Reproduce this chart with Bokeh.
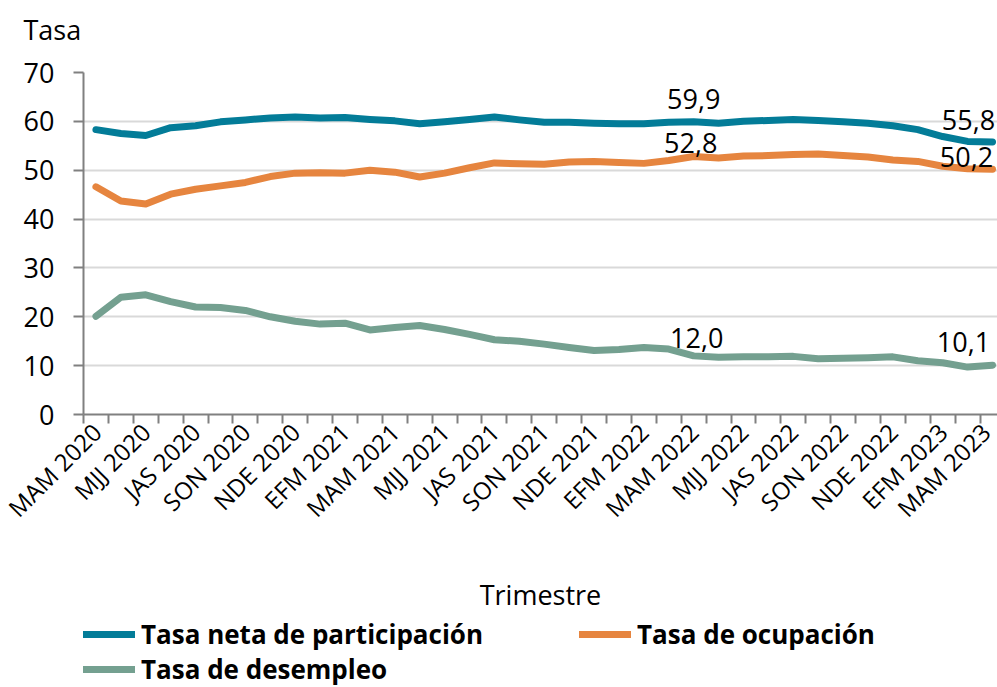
import math
from bokeh.plotting import figure
from bokeh.layouts import column
from bokeh.models import FixedTicker, Legend, LegendItem, Range1d, Title
from bokeh.embed import file_html
from bokeh.resources import INLINE

# ---------------- data ----------------
trimestres = [
    "MAM 2020", "AMJ 2020", "MJJ 2020", "JJA 2020", "JAS 2020", "ASO 2020",
    "SON 2020", "OND 2020", "NDE 2020", "DEF 2021", "EFM 2021", "FMA 2021",
    "MAM 2021", "AMJ 2021", "MJJ 2021", "JJA 2021", "JAS 2021", "ASO 2021",
    "SON 2021", "OND 2021", "NDE 2021", "DEF 2022", "EFM 2022", "FMA 2022",
    "MAM 2022", "AMJ 2022", "MJJ 2022", "JJA 2022", "JAS 2022", "ASO 2022",
    "SON 2022", "OND 2022", "NDE 2022", "DEF 2023", "EFM 2023", "FMA 2023",
    "MAM 2023",
]
tasa_participacion = [
    58.3, 57.5, 57.1, 58.7, 59.1, 59.9, 60.3, 60.7, 60.9, 60.7, 60.8, 60.4,
    60.1, 59.5, 59.9, 60.4, 60.9, 60.3, 59.8, 59.8, 59.6, 59.5, 59.5, 59.8,
    59.9, 59.6, 60.0, 60.2, 60.4, 60.2, 59.9, 59.6, 59.1, 58.3, 56.9, 55.9,
    55.8,
]
tasa_ocupacion = [
    46.6, 43.7, 43.1, 45.1, 46.1, 46.8, 47.5, 48.7, 49.4, 49.5, 49.4, 50.0,
    49.6, 48.6, 49.4, 50.5, 51.5, 51.3, 51.2, 51.7, 51.8, 51.6, 51.4, 52.0,
    52.8, 52.5, 52.9, 53.0, 53.2, 53.3, 53.0, 52.7, 52.1, 51.8, 50.8, 50.3,
    50.2,
]
tasa_desempleo = [
    20.1, 24.0, 24.5, 23.1, 22.0, 21.9, 21.3, 20.0, 19.1, 18.5, 18.7, 17.3,
    17.8, 18.2, 17.4, 16.4, 15.3, 15.0, 14.4, 13.7, 13.1, 13.3, 13.7, 13.4,
    12.0, 11.7, 11.8, 11.8, 11.9, 11.4, 11.5, 11.6, 11.8, 11.0, 10.6, 9.7,
    10.1,
]
series_nombres = ["Tasa neta de participación", "Tasa de ocupación", "Tasa de desempleo"]
y_ticks = [0, 10, 20, 30, 40, 50, 60, 70]
indices_etiquetados = [24, 36]

# ---------------- style ----------------
FONT = "Open Sans"
C_TNP = "#037C98"
C_TO = "#E6853F"
C_TD = "#74A090"
GRAY = "#808080"
GRID = "#D9D9D9"
LINE_KW = dict(line_width=7, line_cap="round", line_join="round")

x = list(range(len(trimestres)))

p = figure(width=997, height=616, output_backend="svg", toolbar_location=None,
           x_range=Range1d(-0.5, 36.2), y_range=Range1d(0, 70),
           min_border_left=83, min_border_top=72, min_border_right=0,
           min_border_bottom=201)
p.outline_line_color = None
p.background_fill_color = "white"
p.border_fill_color = "white"

# "Tasa" as the (outer) title, with a small spacer title between it and the frame
p.title.text = "Tasa"
p.title.align = "left"
p.title.offset = -60
p.title.standoff = 0
p.title.text_font = FONT
p.title.text_font_size = "27px"
p.title.text_font_style = "normal"
p.title.text_color = "black"
p.add_layout(Title(text=" ", text_font_size="1px", standoff=22), "above")

# lines
p.line(x, tasa_participacion, color=C_TNP, **LINE_KW)
p.line(x, tasa_ocupacion, color=C_TO, **LINE_KW)
p.line(x, tasa_desempleo, color=C_TD, **LINE_KW)

def fmt(v):
    return f"{v:.1f}".replace(".", ",")

label_offsets = [
    (tasa_participacion, [0, -24], [-23, -22]),
    (tasa_ocupacion, [-3, -26], [-14, -12]),
    (tasa_desempleo, [3, -29], [-18, -23]),
]
for serie, xo, yo in label_offsets:
    p.text(x=[x[i] for i in indices_etiquetados],
           y=[serie[i] for i in indices_etiquetados],
           text=[fmt(serie[i]) for i in indices_etiquetados],
           x_offset=xo, y_offset=yo,
           text_align="center", text_baseline="middle",
           text_font={"value": FONT}, text_font_size="27px", text_color="black")

# y axis
p.yaxis.ticker = FixedTicker(ticks=y_ticks)
p.yaxis.axis_line_color = GRAY
p.yaxis.axis_line_width = 2
p.yaxis.major_tick_line_color = GRAY
p.yaxis.major_tick_line_width = 2
p.yaxis.major_tick_out = 10
p.yaxis.major_tick_in = 0
p.yaxis.minor_tick_line_color = None
p.yaxis.major_label_standoff = 19
p.yaxis.major_label_text_font = FONT
p.yaxis.major_label_text_font_size = "27px"
p.yaxis.major_label_text_color = "black"

# x axis
p.xaxis.ticker = FixedTicker(ticks=x[::2], minor_ticks=[i - 0.5 for i in range(len(trimestres) + 1)])
p.xaxis.major_label_overrides = {i: trimestres[i] for i in x[::2]}
p.xaxis.major_label_orientation = math.pi / 4
p.xaxis.major_tick_line_color = None
p.xaxis.major_tick_out = 9
p.xaxis.major_tick_in = 0
p.xaxis.minor_tick_out = 9
p.xaxis.minor_tick_in = 0
p.xaxis.minor_tick_line_color = GRAY
p.xaxis.minor_tick_line_width = 2
p.xaxis.axis_line_color = GRAY
p.xaxis.axis_line_width = 2
p.xaxis.major_label_standoff = 4
p.xaxis.major_label_text_font = FONT
p.xaxis.major_label_text_font_size = "24px"
p.xaxis.major_label_text_color = "black"
p.xaxis.axis_label = "Trimestre"
p.xaxis.axis_label_text_font = FONT
p.xaxis.axis_label_text_font_size = "27px"
p.xaxis.axis_label_text_font_style = "normal"
p.xaxis.axis_label_text_color = "black"
p.xaxis.axis_label_standoff = 38

p.xgrid.visible = False
p.ygrid.grid_line_color = GRID
p.ygrid.grid_line_width = 2

# ---------------- legend (separate strip below) ----------------
p2 = figure(width=997, height=71, output_backend="svg", toolbar_location=None,
            x_range=Range1d(-0.5, 36.2), y_range=Range1d(-3, -2),
            x_axis_location=None, y_axis_location=None,
            min_border_left=83, min_border_right=0, min_border_top=0, min_border_bottom=0)
p2.outline_line_color = None
p2.xgrid.visible = False
p2.ygrid.visible = False
# legend proxies: same series, kept outside the strip's visible range
l1 = p2.line(x, tasa_participacion, color=C_TNP, **LINE_KW)
l2 = p2.line(x, tasa_ocupacion, color=C_TO, **LINE_KW)
l3 = p2.line(x, tasa_desempleo, color=C_TD, **LINE_KW)

legend_style = dict(
    orientation="horizontal",
    label_text_font=FONT, label_text_font_style="bold", label_text_font_size="26px",
    label_text_color="black",
    glyph_width=52, glyph_height=30, label_height=30,
    label_standoff=6, spacing=96, padding=0, margin=0,
    border_line_color=None, background_fill_alpha=0,
)
legend1 = Legend(items=[
    LegendItem(label=series_nombres[0], renderers=[l1]),
    LegendItem(label=series_nombres[1], renderers=[l2]),
], location=(0, 35), **legend_style)
legend2 = Legend(items=[
    LegendItem(label=series_nombres[2], renderers=[l3]),
], location=(0, 0), **legend_style)
p2.add_layout(legend1)
p2.add_layout(legend2)

layout = column(p, p2, spacing=0)
open("out.html", "w").write(file_html(layout, INLINE))
